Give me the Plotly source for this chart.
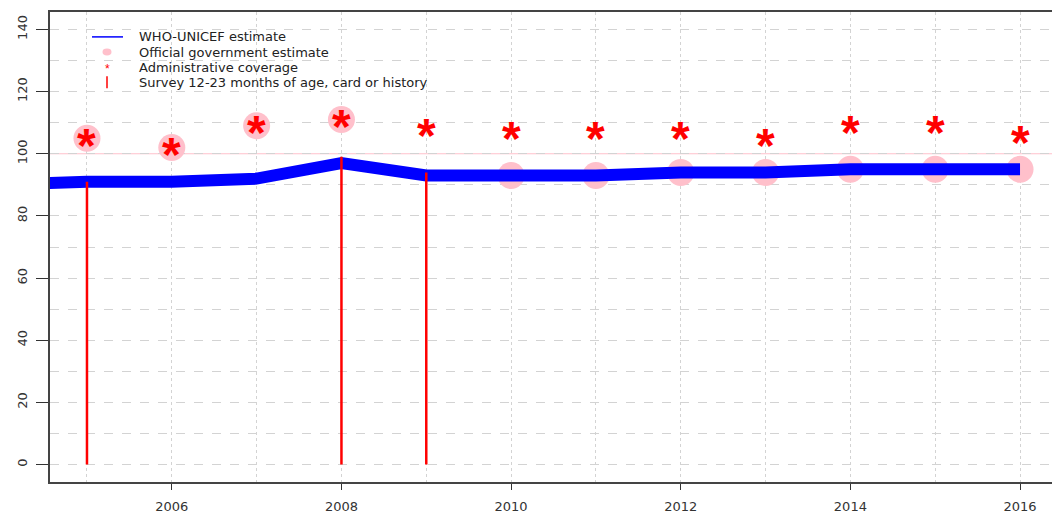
import plotly.graph_objects as go

# Coverage series by year (%)
years = [2005, 2006, 2007, 2008, 2009, 2010, 2011, 2012, 2013, 2014, 2015, 2016]
wuenic_years = [2004] + years
wuenic = [90, 91, 91, 92, 97, 93, 93, 93, 94, 94, 95, 95, 95]

gov_years = [2005, 2006, 2007, 2008, 2010, 2011, 2012, 2013, 2014, 2015, 2016]
gov = [105, 102, 109, 111, 93, 93, 94, 94, 95, 95, 95]

admin = [105, 102, 109, 111, 108, 107, 107, 107, 105, 109, 109, 106]

survey_years = [2005, 2008, 2009]
survey = [91, 99, 94]

x_ticks = [2006, 2008, 2010, 2012, 2014, 2016]
y_ticks = [0, 20, 40, 60, 80, 100, 120, 140]

legend_labels = ["WHO-UNICEF estimate",
                 "Official government estimate",
                 "Administrative coverage",
                 "Survey 12-23 months of age, card or history"]

FONT = "DejaVu Sans, sans-serif"
STAR_FONT = "Liberation Sans, Arial, sans-serif"

W, H = 1052, 514
ML, MR, MT, MB = 50, 0, 12, 30
PW, PH = W - ML - MR, H - MT - MB


def px(xp):
    return (xp - ML) / PW


def py(yp):
    return (H - MB - yp) / PH


fig = go.Figure()

# reference line at 100 %
fig.add_hline(y=100, line=dict(color="pink", width=1), layer="below")

# official government estimates
fig.add_trace(go.Scatter(
    x=gov_years, y=gov, mode="markers",
    marker=dict(color="pink", size=27, line=dict(width=0)),
    showlegend=False, hoverinfo="skip"))

# WHO-UNICEF estimate
fig.add_trace(go.Scatter(
    x=wuenic_years, y=wuenic, mode="lines",
    line=dict(color="blue", width=12), showlegend=False))

# survey results as vertical bars from zero
sx, sy = [], []
for yr, v in zip(survey_years, survey):
    sx += [yr, yr, None]
    sy += [0, v, None]
fig.add_trace(go.Scatter(x=sx, y=sy, mode="lines",
                         line=dict(color="red", width=2.5),
                         showlegend=False, hoverinfo="skip"))

# administrative coverage drawn as asterisks
for yr, v in zip(years, admin):
    fig.add_annotation(x=yr, y=v, text="<b>*</b>", showarrow=False,
                       xanchor="center", yanchor="middle", yshift=-7,
                       font=dict(family=STAR_FONT, size=48, color="red"))

# legend (drawn by hand for the tight R-style spacing)
row_y = [37.0, 52.2, 67.4, 82.6]
sym_x = 107
for lab, ry in zip(legend_labels, row_y):
    fig.add_annotation(xref="paper", yref="paper", x=px(138), y=py(ry),
                       text=lab, showarrow=False, xanchor="left",
                       yanchor="middle", borderpad=0,
                       font=dict(family=FONT, size=13, color="#222222"))
fig.add_shape(type="line", xref="paper", yref="paper",
              x0=px(92), x1=px(123), y0=py(row_y[0]), y1=py(row_y[0]),
              line=dict(color="blue", width=1.5))
fig.add_shape(type="circle", xref="paper", yref="paper",
              x0=px(sym_x - 4.5), x1=px(sym_x + 4.5),
              y0=py(row_y[1] - 3.5), y1=py(row_y[1] + 3.5),
              fillcolor="pink", line=dict(width=0))
fig.add_annotation(xref="paper", yref="paper", x=px(sym_x), y=py(row_y[2]),
                   text="*", showarrow=False, xanchor="center",
                   yanchor="middle", yshift=-2, borderpad=0,
                   font=dict(family=STAR_FONT, size=12, color="red"))
fig.add_shape(type="line", xref="paper", yref="paper",
              x0=px(sym_x), x1=px(sym_x),
              y0=py(row_y[3] - 6), y1=py(row_y[3] + 6),
              line=dict(color="red", width=1.5))

fig.update_layout(
    width=W, height=H,
    margin=dict(l=ML, r=MR, t=MT, b=MB),
    paper_bgcolor="white", plot_bgcolor="white",
    font=dict(family=FONT, size=13, color="#333333"),
    showlegend=False,
)

fig.update_xaxes(
    range=[2004.564, 2016.377], tickvals=x_ticks,
    ticks="outside", ticklen=6, tickcolor="#333333",
    ticklabelstandoff=6,
    showline=True, linecolor="#444444", linewidth=1.5, mirror=True,
    showgrid=True, gridcolor="#d3d3d3", griddash="dot", gridwidth=1,
    minor=dict(dtick=1, tick0=2005, showgrid=True, gridcolor="#d3d3d3",
               griddash="dot", gridwidth=1),
    zeroline=False, tickfont=dict(family=FONT, size=13, color="#333333"),
)
fig.update_yaxes(
    range=[-5.6, 145.6], tickvals=y_ticks, tickangle=-90,
    ticks="outside", ticklen=12, tickcolor="#333333",
    ticklabelstandoff=4,
    showline=True, linecolor="#444444", linewidth=1.5, mirror=False,
    showgrid=True, gridcolor="#d3d3d3", griddash="dash", gridwidth=1,
    minor=dict(dtick=10, tick0=0, showgrid=True, gridcolor="#d3d3d3",
               griddash="dash", gridwidth=1),
    zeroline=False, tickfont=dict(family=FONT, size=13, color="#333333"),
)

fig.write_html("out.html")
